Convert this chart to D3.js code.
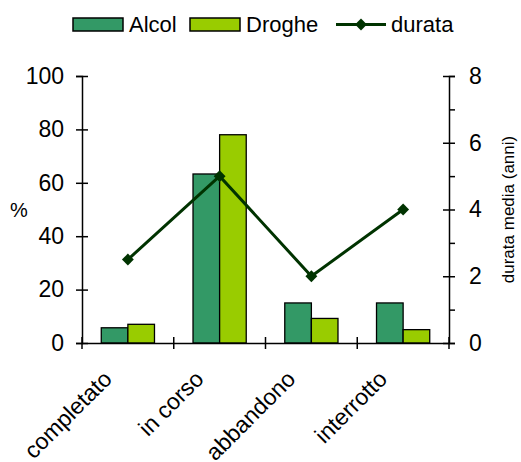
<!DOCTYPE html>
<html><head><meta charset="utf-8">
<script src="https://cdn.jsdelivr.net/npm/d3@7"></script>
<style>body{margin:0;background:#fff}svg{display:block}text{font-family:"Liberation Sans",Arial,sans-serif;fill:#000}</style>
</head><body><svg id="c" width="521" height="462"></svg>
<script>
const categories = ["completato", "in corso", "abbandono", "interrotto"];
const alcol = [5.7, 63.3, 15, 15];
const droghe = [7, 78, 9.2, 5];
const durata = [2.5, 5, 2, 4];
const leftTicks = [0, 20, 40, 60, 80, 100];
const rightTicks = [0, 2, 4, 6, 8];

const svg = d3.select("#c");
const L = 82, R = 449, T = 76, B = 343;
const x = d3.scaleBand().domain(categories).range([L, R]).paddingInner(0.42).paddingOuter(0.21);
const xc = d3.scaleBand().domain(categories).range([L, R]);
const yL = d3.scaleLinear().domain([0, 100]).range([B, T]);
const yR = d3.scaleLinear().domain([0, 8]).range([B, T]);
const xs = d3.scaleBand().domain(["Alcol", "Droghe"]).range([0, x.bandwidth()]);
const colors = {Alcol: "#339966", Droghe: "#99cc00"};
const lineColor = "#003300";

// bars
const series = [{name: "Alcol", values: alcol}, {name: "Droghe", values: droghe}];
series.forEach(s => {
  svg.append("g").selectAll("rect").data(categories).join("rect")
    .attr("x", c => x(c) + xs(s.name))
    .attr("y", (c, i) => yL(s.values[i]))
    .attr("width", xs.bandwidth())
    .attr("height", (c, i) => B - yL(s.values[i]))
    .attr("fill", colors[s.name]).attr("stroke", "#000").attr("stroke-width", 1.3);
});

// axes
const fs = "23px";
const gl = svg.append("g").attr("transform", `translate(${L},0)`)
  .call(d3.axisLeft(yL).tickValues(leftTicks).tickSize(6).tickPadding(12));
gl.selectAll(".tick line").attr("x2", 6).attr("x1", -6);
const gr = svg.append("g").attr("transform", `translate(${R},0)`)
  .call(d3.axisRight(yR).tickValues(rightTicks).tickSize(6).tickPadding(14));
gr.selectAll(".tick line").attr("x1", -6).attr("x2", 6);
svg.append("g").attr("transform", `translate(${R},0)`)
  .call(d3.axisRight(yR).tickValues([1, 3, 5, 7]).tickSize(6).tickFormat(""))
  .select(".domain").remove();
const gb = svg.append("g").attr("transform", `translate(0,${B})`)
  .call(d3.axisBottom(xc).tickSize(0).tickFormat(""));
gb.selectAll(".tick").remove();
gb.selectAll(".bt").data(d3.range(categories.length + 1)).join("line")
  .attr("x1", i => L + i * xc.step()).attr("x2", i => L + i * xc.step())
  .attr("y1", -6).attr("y2", 6).attr("stroke", "#000").attr("stroke-width", 1.5);
[gl, gr, gb].forEach(g => {
  g.selectAll("path.domain").attr("stroke", "#000").attr("stroke-width", 1.5);
  g.selectAll(".tick line").attr("stroke", "#000").attr("stroke-width", 1.5);
  g.selectAll("text").style("font-size", fs).attr("font-family", null);
});
svg.selectAll("g line").attr("stroke-width", 1.5);

// category labels
svg.append("g").selectAll("text").data(categories).join("text")
  .attr("transform", c => `translate(${xc(c) + xc.bandwidth() / 2 - 26},${B + 26}) rotate(-45)`)
  .attr("text-anchor", "end").attr("dy", "0.7em")
  .style("font-size", fs).text(c => c);

// line
const pts = categories.map((c, i) => [xc(c) + xc.bandwidth() / 2, yR(durata[i])]);
svg.append("path").attr("d", d3.line()(pts)).attr("fill", "none")
  .attr("stroke", lineColor).attr("stroke-width", 3);
svg.append("g").selectAll("path").data(pts).join("path")
  .attr("transform", p => `translate(${p[0]},${p[1]})`)
  .attr("d", d3.symbol(d3.symbolDiamond2, 90)).attr("fill", lineColor);

// axis titles
svg.append("text").attr("x", 19).attr("y", 210).attr("text-anchor", "middle")
  .attr("dy", "0.35em").style("font-size", "20px").text("%");
svg.append("text").attr("transform", `translate(508,${(T + B) / 2}) rotate(-90)`)
  .attr("text-anchor", "middle").attr("dy", "0.35em").style("font-size", "17px")
  .text("durata media (anni)");

// legend
const lg = svg.append("g");
[["Alcol", 73], ["Droghe", 190]].forEach(([n, lx]) => {
  lg.append("rect").attr("x", lx).attr("y", 18).attr("width", 50).attr("height", 13)
    .attr("fill", colors[n]).attr("stroke", "#000").attr("stroke-width", 1.5);
  lg.append("text").attr("x", lx + 56).attr("y", 24.5).attr("dy", "0.35em")
    .style("font-size", "22px").text(n);
});
lg.append("line").attr("x1", 336).attr("x2", 386).attr("y1", 24.5).attr("y2", 24.5)
  .attr("stroke", lineColor).attr("stroke-width", 3);
lg.append("path").attr("transform", "translate(361,24.5)")
  .attr("d", d3.symbol(d3.symbolDiamond2, 90)).attr("fill", lineColor);
lg.append("text").attr("x", 391).attr("y", 24.5).attr("dy", "0.35em")
  .style("font-size", "22px").text("durata");
</script></body></html>
